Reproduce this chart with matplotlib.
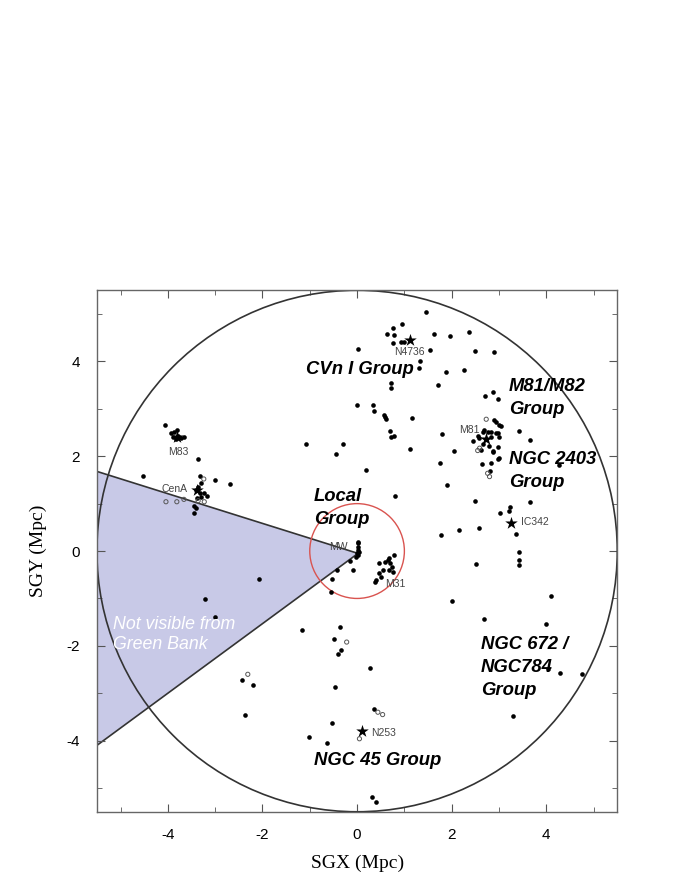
import matplotlib
matplotlib.use('Agg')
import matplotlib.pyplot as plt
from matplotlib.patches import Circle, Polygon
import numpy as np

plt.rcParams['axes.unicode_minus'] = False

# galaxies (filled dots), Mpc
dot_x = [1.46, 0.95, 0.75, 0.63, 0.79, 0.75, 0.93, 0.99, 1.63, 1.97, 2.37, 1.54, 2.49, 2.90,
         0.01, 1.32, 1.30, 1.87, 2.27, 0.72, 0.72, 1.71, -0.01, 0.34, 0.35, 2.71, 2.87, 2.98,
         0.56, 0.58, 0.61, 1.16, 0.70, 0.72, 0.78, 1.80, 1.12, 2.04, 2.87, 3.43, 3.66, 2.97,
         2.64, 2.83, 1.75, 0.18, 4.26, 1.90, 0.81, 2.49, 3.66, 3.23, 3.21, 3.02, 1.78, 2.16,
         2.57, 3.36, 0.01, 3.42, 3.42, 3.42, 2.52, 4.10, 2.69, 4.00, 4.04, 4.28, 4.76, 2.01,
         0.27, 3.30, 0.35, 0.31, 0.41,
         # M31 group
         0.58, 0.65, 0.70, 0.79, 0.73, 0.68, 0.75, 0.54, 0.47, 0.51, 0.40, 0.37, 0.47, 0.68,
         # Milky Way
         0.01, 0.03, 0.01, 0.05, 0.00, 0.03, -0.02, -0.14, -0.42, -0.09, -0.54, -0.56,
         -2.07, -3.21, -3.00, -1.17, -0.37, -0.49, -0.35, -0.41, -2.43, -2.19, -0.47, -2.37,
         -0.53, -1.02, -0.63, -1.09, -0.29, -0.44, -4.06,
         # M83
         -3.93, -3.86, -3.81, -3.78, -3.72, -3.83, -3.90, -3.66,
         -3.36, -4.52, -3.33, -3.00, -2.68,
         # Cen A
         -3.30, -3.37, -3.40, -3.33, -3.23, -3.17, -3.30, -3.38, -3.44, -3.40, -3.45,
         # M81
         2.90, 3.01, 3.04, 2.66, 2.83, 2.97, 2.58, 2.66, 2.83, 2.94, 2.45, 2.79, 2.62, 2.98,
         3.01, 2.55, 2.87, 3.00, 2.82, 2.94, 2.69, 2.76]
dot_y = [5.05, 4.78, 4.71, 4.58, 4.55, 4.39, 4.42, 4.40, 4.58, 4.53, 4.62, 4.25, 4.23, 4.20,
         4.27, 4.00, 3.86, 3.77, 3.82, 3.55, 3.44, 3.50, 3.09, 3.09, 2.96, 3.26, 3.36, 3.21,
         2.88, 2.82, 2.78, 2.81, 2.54, 2.40, 2.42, 2.47, 2.16, 2.11, 2.09, 2.54, 2.35, 1.94,
         1.84, 1.85, 1.85, 1.71, 1.82, 1.40, 1.17, 1.05, 1.04, 0.92, 0.85, 0.80, 0.34, 0.44,
         0.48, 0.36, 0.16, -0.01, -0.19, -0.30, -0.27, -0.95, -1.44, -1.53, -2.48, -2.57, -2.59, -1.06,
         -2.47, -3.49, -3.33, -5.19, -5.30,
         -0.23, -0.19, -0.26, -0.08, -0.33, -0.40, -0.44, -0.40, -0.47, -0.54, -0.61, -0.65, -0.26, -0.15,
         0.20, 0.09, 0.02, -0.01, -0.05, -0.08, -0.12, -0.21, -0.40, -0.41, -0.60, -0.87,
         -0.60, -1.02, -1.39, -1.66, -1.61, -1.85, -2.09, -2.18, -2.73, -2.82, -2.87, -3.45,
         -3.62, -3.93, -4.04, 2.26, 2.26, 2.04, 2.65,
         2.49, 2.52, 2.56, 2.42, 2.38, 2.36, 2.40, 2.40,
         1.95, 1.59, 1.59, 1.50, 1.41,
         1.44, 1.36, 1.29, 1.22, 1.22, 1.17, 1.15, 1.11, 0.94, 0.90, 0.81,
         2.77, 2.66, 2.63, 2.52, 2.52, 2.49, 2.39, 2.26, 2.41, 2.49, 2.33, 2.22, 2.14, 2.20,
         2.40, 2.42, 2.10, 1.97, 1.68, 2.73, 2.56, 2.52]

# open circles
open_x = [-3.24, -3.36, -3.23, -4.04, -3.81, -3.66, 2.73, 2.59, 2.55, 2.76, 2.80,
          0.44, 0.54, 0.05, -0.22, -2.31]
open_y = [1.52, 1.06, 1.04, 1.04, 1.04, 1.09, 2.78, 2.17, 2.12, 1.64, 1.57,
          -3.40, -3.45, -3.96, -1.92, -2.60]

# bright galaxies (stars)
star_x = [1.11, -3.81, -3.38, 2.73, 3.25, 0.11]
star_y = [4.46, 2.41, 1.29, 2.37, 0.60, -3.80]

# small labels
lab_text = ['N4736', 'M81', 'M83', 'CenA', 'MW', 'M31', 'IC342', 'N253']
lab_x = [0.78, 2.16, -4.00, -4.14, -0.59, 0.59, 3.47, 0.30]
lab_y = [4.19, 2.56, 2.09, 1.31, 0.08, -0.70, 0.61, -3.83]

# group names
grp_text = ['CVn I Group', 'M81/M82\nGroup', 'NGC 2403\nGroup', 'Local\nGroup',
            'NGC 672 /\nNGC784\nGroup', 'NGC 45 Group']
grp_x = [-1.08, 3.21, 3.21, -0.91, 2.62, -0.91]
grp_y = [3.83, 3.23, 1.68, 0.91, -2.45, -4.42]

wedge_x = [-5.5, 0.02, -5.5]
wedge_y = [1.68, -0.05, -4.10]

fig = plt.figure(figsize=(6.92, 8.96), dpi=100)
ax = fig.add_axes([0.140, 0.094, 0.752, 0.582])

ax.add_patch(Polygon(np.column_stack([wedge_x, wedge_y]), closed=True,
                     facecolor='#c8c9e7', edgecolor='#333333', lw=1.2, zorder=1))
ax.add_patch(Circle((0, 0), 5.5, fill=False, edgecolor='#333333', lw=1.2, zorder=2))
ax.add_patch(Circle((0, 0), 1.0, fill=False, edgecolor='#d9534f', lw=1.0, zorder=2))

ax.scatter(dot_x, dot_y, s=11, c='black', zorder=4, linewidths=0)
ax.scatter(open_x, open_y, s=9, facecolors='none', edgecolors='#555555', linewidths=0.7, zorder=4)
ax.scatter(star_x, star_y, s=90, marker='*', c='black', zorder=5, linewidths=0)

for t, x, y in zip(lab_text, lab_x, lab_y):
    ax.text(x, y, t, fontsize=7.5, color='#444444', family='Liberation Sans',
            va='center', ha='left', zorder=6)

for t, x, y in zip(grp_text, grp_x, grp_y):
    ax.text(x, y, t, fontsize=13.3, fontweight='bold', fontstyle='italic',
            family='Liberation Sans', va='center', ha='left', linespacing=1.45, zorder=6)

ax.text(-5.15, -1.76, 'Not visible from\nGreen Bank', fontsize=12.8, fontstyle='italic',
        color='white', family='Liberation Sans', va='center', ha='left', linespacing=1.3, zorder=6)

ax.set_xlim(-5.5, 5.5)
ax.set_ylim(-5.5, 5.5)
ax.set_xticks([-4, -2, 0, 2, 4])
ax.set_yticks([-4, -2, 0, 2, 4])
ax.set_xticks(np.arange(-5, 6, 1), minor=True)
ax.set_yticks(np.arange(-5, 6, 1), minor=True)
ax.tick_params(which='both', direction='in', top=True, right=True, color='#555555')
ax.tick_params(which='major', length=6, labelsize=11, pad=12)
ax.tick_params(which='minor', length=3.5)
for lbl in ax.get_xticklabels() + ax.get_yticklabels():
    lbl.set_family('Liberation Sans')
for s in ax.spines.values():
    s.set_color('#666666')
    s.set_linewidth(1.0)

ax.set_xlabel('SGX (Mpc)', fontsize=14, family='Liberation Serif', labelpad=9)
ax.set_ylabel('SGY (Mpc)', fontsize=14, family='Liberation Serif', labelpad=14)

fig.savefig('out.png', dpi=100)
